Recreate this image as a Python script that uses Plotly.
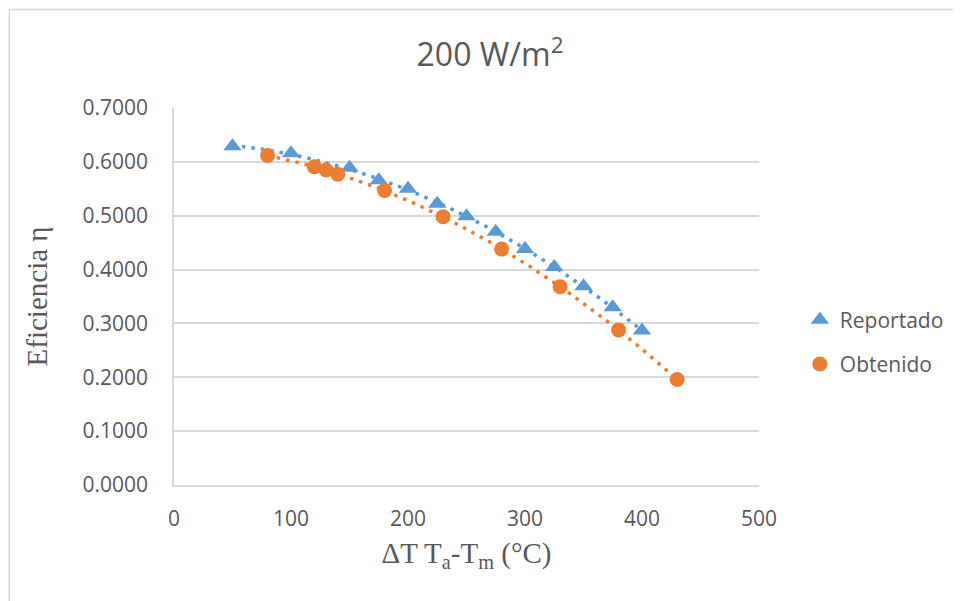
import numpy as np
import plotly.graph_objects as go

# Data
reportado_x = [50, 100, 150, 175, 200, 225, 250, 275, 300, 325, 350, 375, 400]
reportado_y = [0.629, 0.616, 0.589, 0.566, 0.550, 0.522, 0.499, 0.470, 0.438, 0.405, 0.369, 0.330, 0.287]

obtenido_x = [80, 120, 130, 140, 180, 230, 280, 330, 380, 430]
obtenido_y = [0.612, 0.591, 0.585, 0.577, 0.547, 0.498, 0.438, 0.368, 0.288, 0.196]

x_ticks = [0, 100, 200, 300, 400, 500]
y_ticks = [0.0, 0.1, 0.2, 0.3, 0.4, 0.5, 0.6, 0.7]

BLUE = "#5B9BD5"
ORANGE = "#ED7D31"
TEXT = "#595959"
GRID = "#D9D9D9"


def trend(xs, ys):
    # 2nd order polynomial trendline (as the spreadsheet trendline)
    c = np.polyfit(xs, ys, 2)
    xx = np.linspace(min(xs), max(xs), 120)
    return xx, np.polyval(c, xx)


fig = go.Figure()

tx, ty = trend(reportado_x, reportado_y)
fig.add_trace(go.Scatter(x=tx, y=ty, mode="lines", showlegend=False, hoverinfo="skip",
                         line=dict(color=BLUE, width=3.5, dash="3.5px,6px")))
tx, ty = trend(obtenido_x, obtenido_y)
fig.add_trace(go.Scatter(x=tx, y=ty, mode="lines", showlegend=False, hoverinfo="skip",
                         line=dict(color=ORANGE, width=3.5, dash="3.5px,6px")))

fig.add_trace(go.Scatter(x=reportado_x, y=reportado_y, mode="markers", name="Reportado",
                         legendgroup="a",
                         marker=dict(symbol="triangle-up", size=16, color=BLUE)))
fig.add_trace(go.Scatter(x=obtenido_x, y=obtenido_y, mode="markers", name="Obtenido",
                         legendgroup="b",
                         marker=dict(symbol="circle", size=15, color=ORANGE)))

# page has an 8px body margin; figure pixels are screen pixels minus 8
W, H = 953, 593
L, T = 166, 100
PW, PH = 587, 377
R = W - L - PW
B = H - T - PH


def px_x(p):
    return (p - L) / PW


def px_y(p):
    return (T + PH - p) / PH


fig.update_layout(
    width=W, height=H,
    margin=dict(l=L, r=R, t=T, b=B),
    paper_bgcolor="white", plot_bgcolor="white",
    font=dict(family="Open Sans", color=TEXT),
    title=dict(text="200 W/m<sup>2</sup>", x=482 / W, xanchor="center", xref="container",
               y=1 - 47 / H, yanchor="middle", yref="container",
               font=dict(family="Open Sans", size=32, color=TEXT)),
    showlegend=True,
    legend=dict(x=px_x(794), y=px_y(334), xanchor="left", yanchor="middle",
                font=dict(family="Open Sans", size=21, color=TEXT),
                tracegroupgap=14, traceorder="grouped"),
    xaxis=dict(range=[0, 500], tickvals=x_ticks, ticktext=[str(v) for v in x_ticks],
               showgrid=False, zeroline=False, showline=True, linecolor=GRID, linewidth=1.5,
               ticks="outside", ticklen=14, tickcolor="rgba(0,0,0,0)",
               tickfont=dict(family="Open Sans", size=21, color=TEXT),
               title=dict(text="ΔT T<sub>a</sub>-T<sub>m</sub> (°C)",
                          font=dict(family="Liberation Serif", size=29, color=TEXT),
                          standoff=12)),
    yaxis=dict(range=[0, 0.7], tickvals=y_ticks, ticktext=[f"{v:.4f}" for v in y_ticks],
               showgrid=True, gridcolor=GRID, gridwidth=1.5, zeroline=False,
               showline=True, linecolor=GRID, linewidth=1.5,
               ticks="outside", ticklen=20, tickcolor="rgba(0,0,0,0)",
               tickfont=dict(family="Open Sans", size=21, color=TEXT),
               title=dict(text="Eficiencia η",
                          font=dict(family="Liberation Serif", size=29, color=TEXT),
                          standoff=26)),
    shapes=[dict(type="rect", xref="paper", yref="paper",
                 x0=px_x(0.75), x1=px_x(W + 10), y0=px_y(H + 10), y1=px_y(1.5),
                 line=dict(color="#D9D9D9", width=1.5), fillcolor="rgba(0,0,0,0)", layer="below")],
)

fig.write_html("out.html")
